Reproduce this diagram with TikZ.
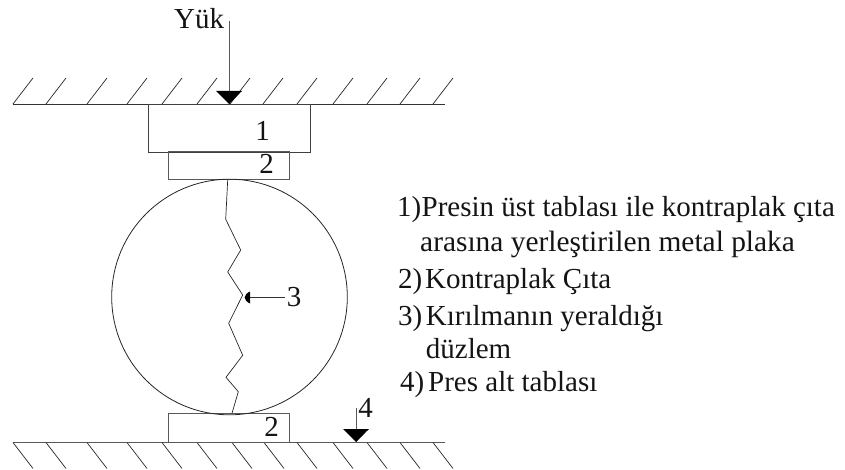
\documentclass[tikz,border=0pt]{standalone}
\usepackage{fontspec}
\setmainfont{Liberation Serif}
\begin{document}
\begin{tikzpicture}[x=1pt,y=-1pt,
  lbl/.style={inner sep=0pt,anchor=base west,font=\fontsize{29}{29}\selectfont,text=black!92},
  num/.style={inner sep=0pt,anchor=base,font=\fontsize{29}{29}\selectfont,text=black!92},
  ln/.style={line width=0.9pt,draw=black!80},
  thick ln/.style={line width=1.1pt,draw=black!65},
  hatch/.style={line width=0.7pt,draw=black!85}]
\useasboundingbox (0,0) rectangle (845,470);
% plates
\draw[ln] (13,104) -- (445,104);
\draw[thick ln] (13,442.5) -- (445,442.5);
\foreach \x in {13,46,87,127,162,197,230,263,297,333,367,400,433}
  \draw[hatch] (\x,104) -- ++(20,-26);
\foreach \x in {13,46,87,127,162,197,232,264,297,333,367,400,433}
  \draw[hatch] (\x,442.5) -- ++(20,26);
% blocks
\node[draw=black!75,line width=0.9pt,minimum width=161.5pt,minimum height=48pt,inner sep=0pt] (b1) at (229.2,128) {};
\node[draw=black!65,line width=1pt,minimum width=120.5pt,minimum height=28pt,inner sep=0pt] (b2) at (229,166) {};
\node[draw=black!65,line width=1pt,minimum width=120.5pt,minimum height=28.5pt,inner sep=0pt] (b3) at (229,428.2) {};
\node[circle,draw=black!85,line width=0.8pt,minimum size=235.6pt,inner sep=0pt] (c) at (229.5,297) {};
% crack
\draw[line width=0.7pt,draw=black!85] (227.7,180) -- (225.7,219.3) -- (240.7,250) -- (227.7,272) -- (242.7,295) -- (228.7,323.3) -- (242.7,355.3) -- (226,377.3) -- (238.3,391.7) -- (232,413.3);
% load arrow
\node[lbl] (yuk) at (174,29) {Yük};
\coordinate (ya) at (229,21);
\coordinate (yb) at (229,104);
\draw[ln,draw=black!65] (ya) -- (yb);
\fill[black] (216,91) -- (242,91) -- (229,104) -- cycle;
\draw[white,line width=0.6pt] (232,104) -- (241,92.5) (235,104) -- (243,94);
% arrow 3
\node[num] (n3) at (294,306) {3};
\coordinate (a3) at (245,297.5);
\coordinate (a3s) at (285,297.5);
\draw[ln] (a3s) -- (a3);
\fill[black] (250,291.5) .. controls (246.5,293) and (245,295.5) .. (244.5,297.5) .. controls (245,299.5) and (246.5,302) .. (250,303.5) -- cycle;
% arrow 4
\node[num] (n4) at (365.5,417) {4};
\coordinate (a4) at (356,408);
\coordinate (a4b) at (356,442);
\draw[ln,draw=black!65] (a4) -- (a4b);
\fill[black] (343,429) -- (369,429) -- (356,442) -- cycle;
\draw[white,line width=0.6pt] (359,441) -- (367.5,431);
% block numbers
\node[num] at (262.5,140.7) {1};
\node[num] (n2a) at (266.5,173.5) {2};
\node[num] (n2b) at (271.5,436) {2};
% legend
\node[lbl] at (397,217) {1)};
\node[lbl] at (421.5,217) {Presin üst tablası ile kontraplak çıta};
\node[lbl,font=\fontsize{29.4}{29.4}\selectfont] at (420,251.7) {arasına yerleştirilen metal plaka};
\node[lbl] at (398,288) {2)};
\node[lbl] at (425,288) {Kontraplak Çıta};
\node[lbl] at (398,325) {3)};
\node[lbl] at (425.7,325) {Kırılmanın yeraldığı};
\node[lbl] at (425.7,358) {düzlem};
\node[lbl] at (400,391.7) {4)};
\node[lbl] at (428,391.7) {Pres alt tablası};
\end{tikzpicture}
\end{document}
